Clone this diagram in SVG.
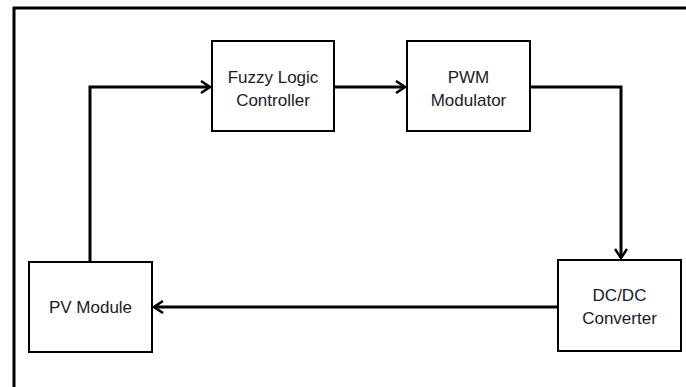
<svg xmlns="http://www.w3.org/2000/svg" width="686" height="387" viewBox="0 0 686 387">
  <style>
    .box { fill: #ffffff; stroke: #000000; stroke-width: 2; }
    .label { font-family: "Liberation Sans", Arial, sans-serif; font-size: 17px; fill: #1a1a2a; text-anchor: middle; }
    .wire { fill: none; stroke: #000000; stroke-width: 3; }
    .frame { fill: none; stroke: #000000; stroke-width: 3; }
  </style>
  <defs>
    <marker id="chevron" markerWidth="12" markerHeight="14" refX="10" refY="7" orient="auto" markerUnits="userSpaceOnUse">
      <path d="M1,1 L10,7 L1,13" fill="none" stroke="#000000" stroke-width="2.5"/>
    </marker>
  </defs>
  <rect width="686" height="387" fill="#ffffff"/>

  <!-- outer border (top and left edges) -->
  <path class="frame" d="M686,8 L14,8 L14,387"/>

  <!-- connectors -->
  <g id="connectors">
    <path class="wire" d="M90,262 L90,87 L210,87" marker-end="url(#chevron)"/>
    <path class="wire" d="M334,87 L405,87" marker-end="url(#chevron)"/>
    <path class="wire" d="M530,87 L621,87 L621,258" marker-end="url(#chevron)"/>
    <path class="wire" d="M558,307 L154,307" marker-end="url(#chevron)"/>
  </g>

  <g id="fuzzy-logic-controller">
    <rect class="box" x="212" y="41" width="122" height="90"/>
    <text class="label" x="273" y="83">Fuzzy Logic</text>
    <text class="label" x="273" y="106">Controller</text>
  </g>

  <g id="pwm-modulator">
    <rect class="box" x="407" y="41" width="123" height="90"/>
    <text class="label" x="468.5" y="83">PWM</text>
    <text class="label" x="468.5" y="106">Modulator</text>
  </g>

  <g id="dc-dc-converter">
    <rect class="box" x="558" y="260" width="123" height="91"/>
    <text class="label" x="619.5" y="301">DC/DC</text>
    <text class="label" x="619.5" y="324">Converter</text>
  </g>

  <g id="pv-module">
    <rect class="box" x="29" y="262" width="123" height="90"/>
    <text class="label" x="90.5" y="313">PV Module</text>
  </g>
</svg>
